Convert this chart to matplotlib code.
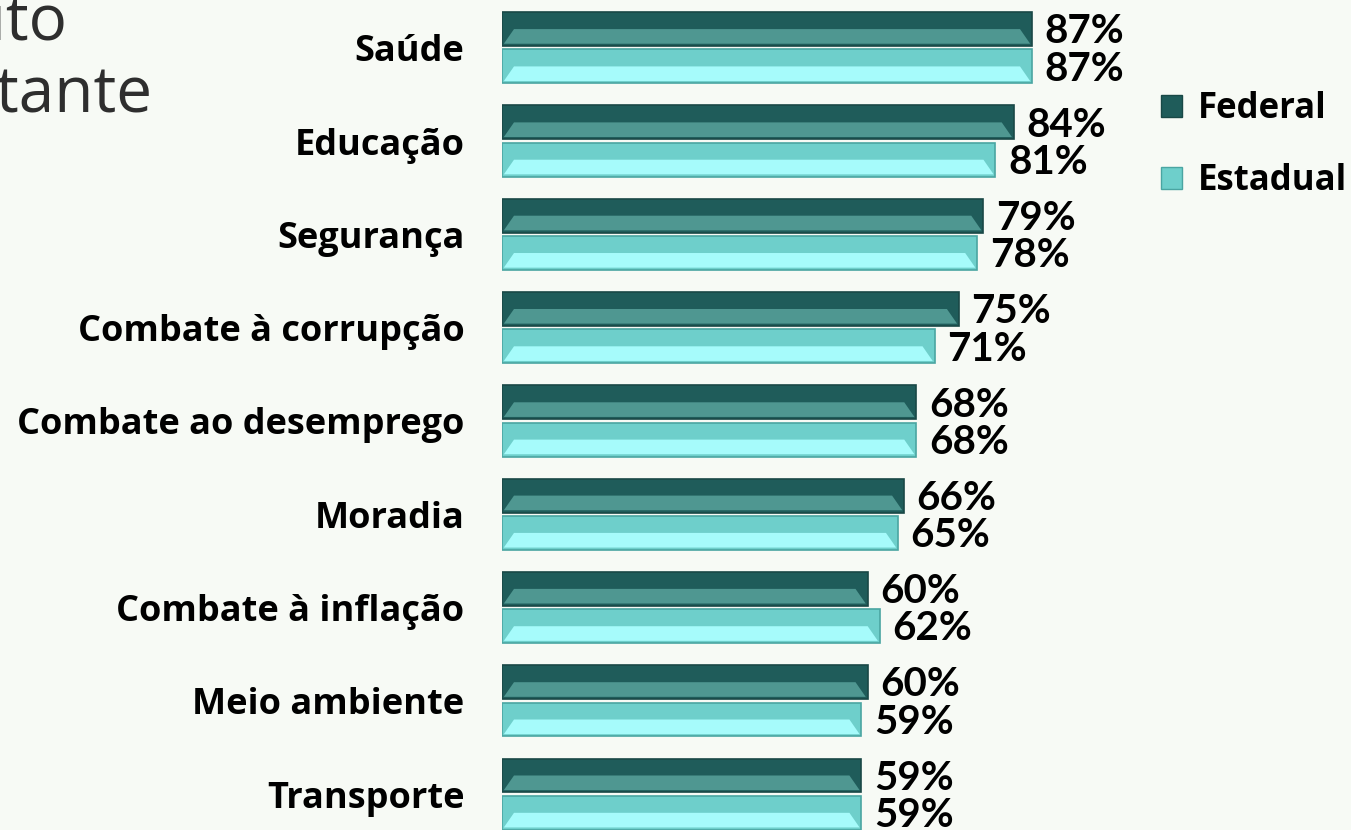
import matplotlib.pyplot as plt
import numpy as np
from matplotlib.patches import Polygon, Patch

# temas, % "muito importante"
categorias = ['Saúde', 'Educação', 'Segurança', 'Combate à corrupção',
              'Combate ao desemprego', 'Moradia', 'Combate à inflação',
              'Meio ambiente', 'Transporte']
federal = [87, 84, 79, 75, 68, 66, 60, 60, 59]
estadual = [87, 81, 78, 71, 68, 65, 62, 59, 59]
series = ['Federal', 'Estadual']

BG = '#f7faf5'
# (topo, faixa clara, borda)
cores = {'Federal': ('#1f5c5a', '#4f9791', '#194846'),
         'Estadual': ('#6ecfcb', '#a6fbfb', '#4aa5a2')}

lab_font = ['Open Sans', 'DejaVu Sans']
num_font = ['Lato', 'DejaVu Sans']

W, H, DPI = 1351, 830, 100
fig = plt.figure(figsize=(W / DPI, H / DPI), dpi=DPI, facecolor=BG)
x0 = 502 / W
ax = fig.add_axes([x0, 0, 1 - x0, 1])
ax.set_facecolor(BG)

px_per_pct = (1032 - 502) / 87
ax.set_xlim(0, (W - 502) / px_per_pct)
pitch = 93.3
ax.set_ylim((H - 47.75) / pitch, -47.75 / pitch)

y = np.arange(len(categorias))
off, h = 0.2, 0.364
bev = 12 / px_per_pct  # largura do chanfro

for nome, vals, dy in [('Federal', federal, -off), ('Estadual', estadual, off)]:
    top, light, edge = cores[nome]
    ax.barh(y + dy, vals, height=h, color=top, edgecolor=edge, linewidth=1.2)
    for yi, v in zip(y + dy, vals):
        yb = yi + h / 2 - 0.025
        band = Polygon([(bev, yi), (v - bev, yi), (v - 0.3, yb), (0.3, yb)],
                       closed=True, facecolor=light, edgecolor='none')
        ax.add_patch(band)
        ax.annotate(f'{v}%', (v, yi), xytext=(9, -2), textcoords='offset points',
                    ha='left', va='center', fontsize=29, fontweight='bold',
                    family=num_font, color='black')

ax.set_yticks(y)
ax.set_yticklabels(categorias, fontsize=26, fontweight='bold', family=lab_font)
ax.tick_params(axis='y', length=0, pad=27)
ax.set_xticks([])
for s in ax.spines.values():
    s.set_visible(False)

handles = [Patch(facecolor=cores[s][0], edgecolor=cores[s][2]) for s in series]
fig.legend(handles, series, loc='center left', bbox_to_anchor=(1130 / W, 1 - 145 / H),
           frameon=False, handlelength=0.6, handleheight=0.6, handletextpad=0.45,
           labelspacing=1.05, prop={'family': lab_font, 'weight': 'bold', 'size': 25})

# titulo cortado no canto
fig.text(68 / W, 1 - 39 / H, 'Muito', ha='right', va='baseline', fontsize=46,
         color='#2e2e2e', family=['Open Sans', 'DejaVu Sans'])
fig.text(152 / W, 1 - 112 / H, 'importante', ha='right', va='baseline', fontsize=46,
         color='#2e2e2e', family=['Open Sans', 'DejaVu Sans'])

fig.savefig('out.png', dpi=DPI, facecolor=BG)
